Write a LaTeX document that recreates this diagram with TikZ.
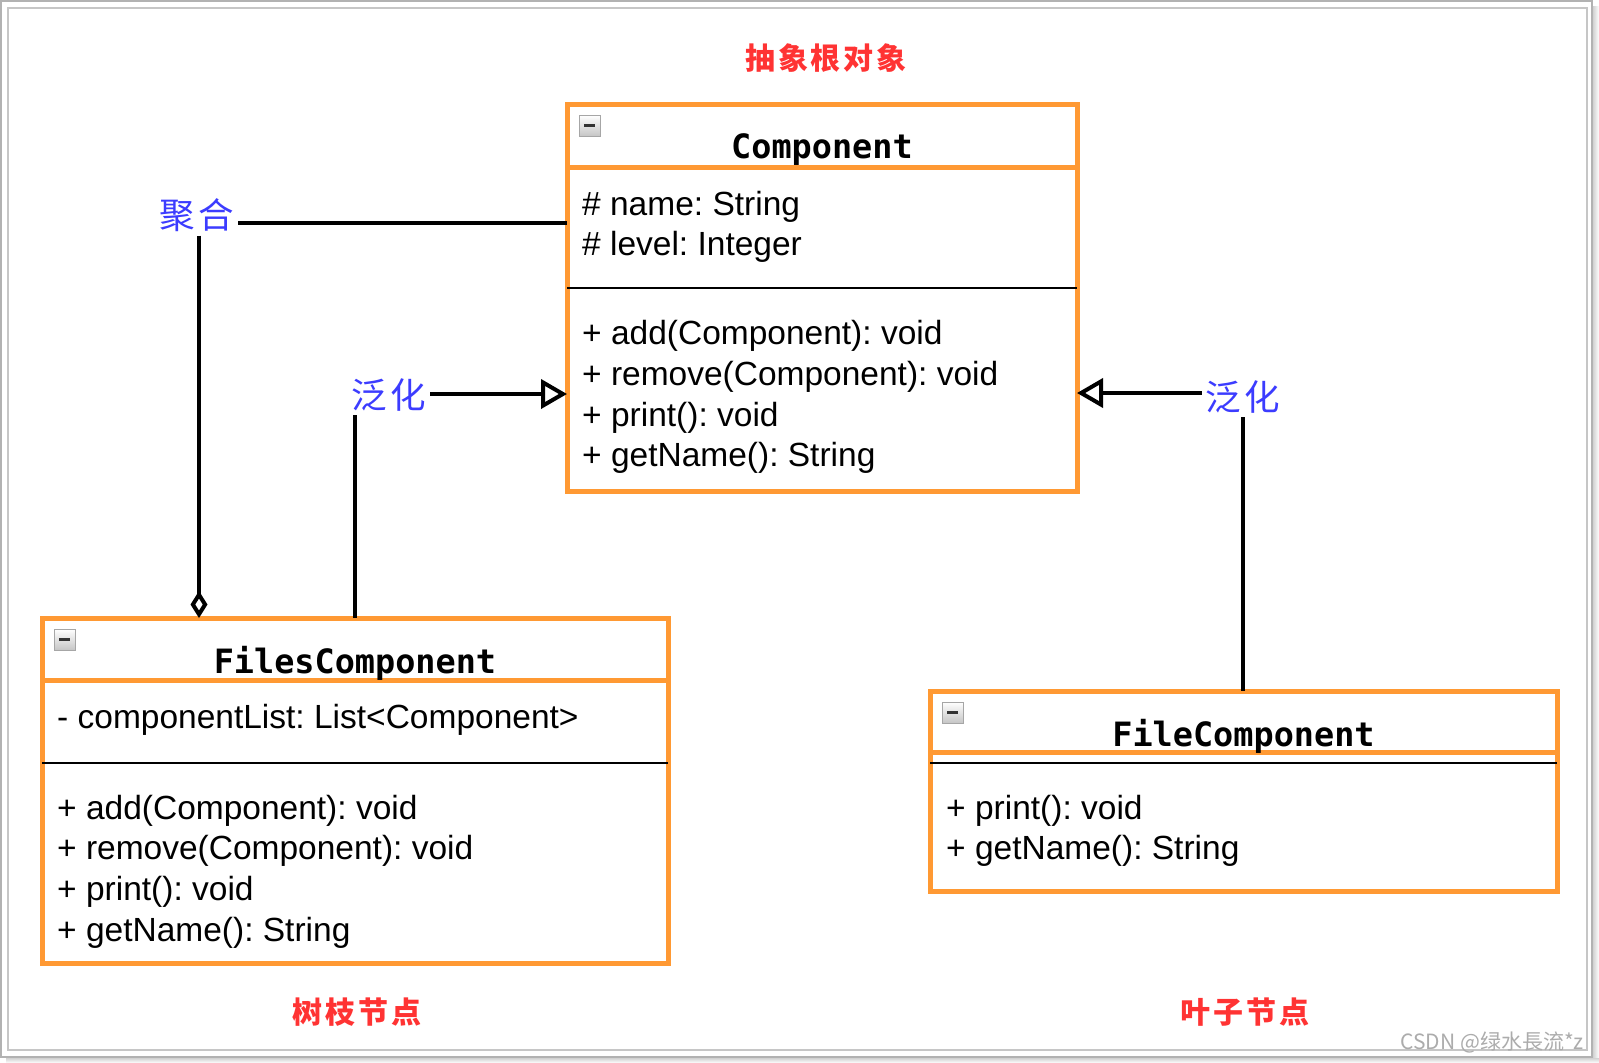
\documentclass[tikz,border=0pt]{standalone}
\usepackage{fontspec}
\setmainfont{Liberation Sans}
\newfontfamily\titlefont{DejaVu Sans Mono}
\newfontfamily\cjk{Noto Sans CJK SC}
\newfontfamily\cjkred[LetterSpace=9]{Noto Sans CJK SC}
\newfontfamily\cjkblue[LetterSpace=10]{Noto Sans CJK SC}
\usetikzlibrary{arrows.meta}
\definecolor{umlorange}{RGB}{255,153,51}
\definecolor{lblred}{RGB}{255,51,51}
\definecolor{lblblue}{RGB}{60,60,255}
\frenchspacing
\begin{document}
\begin{tikzpicture}[x=1pt,y=-1pt,
 clsbox/.style={draw=umlorange,line width=5pt,rectangle,inner sep=0pt,outer sep=0pt},
 hdrline/.style={draw=umlorange,line width=5pt},
 sepline/.style={draw=black,line width=2.5pt},
 clstitle/.style={anchor=base,inner sep=0pt,font=\titlefont\bfseries\fontsize{33.5}{40}\selectfont},
 member/.style={anchor=base west,inner sep=0pt,font=\frenchspacing\fontsize{33.5}{40}\selectfont},
 redlbl/.style={inner sep=0pt,text=lblred,font=\cjkred\bfseries\fontsize{30}{34}\selectfont},
 bluelbl/.style={inner sep=0pt,outer sep=4pt,text=lblblue,font=\cjkblue\fontsize{35.5}{40}\selectfont},
 conn/.style={draw=black,line width=4pt},
 genarrow/.style={conn,-{Triangle[open,length=26pt,width=29pt]}},
 aggarrow/.style={conn,-{Diamond[open,length=27pt,width=17pt]}},
 minusicon/.pic={
   \shade[top color=white,bottom color=gray!45,draw=gray!70,line width=1pt] (0,0) rectangle (21,21);
   \draw[black!80,line width=3pt] (5,10.5) -- (16,10.5);
 }
]
\useasboundingbox (0,0) rectangle (1599,1063);
% frame and shadow
\shade[left color=gray!35,right color=white] (1593,6) rectangle (1599,1063);
\shade[top color=gray!35,bottom color=white] (6,1058) rectangle (1599,1063);
\draw[gray!60,line width=1.5pt,fill=white] (1,1) rectangle (1592,1057);
\draw[gray!45,line width=1.5pt] (8,8) rectangle (1587,1050);

% class boxes
\node[clsbox,minimum width=510pt,minimum height=387pt] (comp) at (822,297.5) {};
\node[clsbox,minimum width=626pt,minimum height=345pt] (files) at (355,790.5) {};
\node[clsbox,minimum width=627pt,minimum height=200pt] (file) at (1243.5,791) {};

% compartments
\draw[hdrline] (comp.west |- 0,167) -- (comp.east |- 0,167);
\draw[sepline] (comp.west |- 0,288) -- (comp.east |- 0,288);
\draw[hdrline] (files.west |- 0,680) -- (files.east |- 0,680);
\draw[sepline] (files.west |- 0,763) -- (files.east |- 0,763);
\draw[hdrline] (file.west |- 0,752) -- (file.east |- 0,752);
\draw[sepline] (file.west |- 0,763) -- (file.east |- 0,763);

% icons
\pic at (579,115) {minusicon};
\pic at (54,629) {minusicon};
\pic at (942,702) {minusicon};

% Component
\node[clstitle] (compT) at (822,158) {Component};
\node[member] (compA1) at (582,215) {\# name: String};
\node[member] (compA2) at (582,255) {\# level: Integer};
\node[member] (compM1) at (582,344) {+ add(Component): void};
\node[member] (compM2) at (582,385) {+ remove(Component): void};
\node[member] (compM3) at (582,426) {+ print(): void};
\node[member] (compM4) at (582,466) {+ getName(): String};

% FilesComponent
\node[clstitle] (filesT) at (355,673) {FilesComponent};
\node[member] (filesA1) at (57,728) {- componentList: List<Component>};
\node[member] (filesM1) at (57,819) {+ add(Component): void};
\node[member] (filesM2) at (57,859.5) {+ remove(Component): void};
\node[member] (filesM3) at (57,900) {+ print(): void};
\node[member] (filesM4) at (57,941) {+ getName(): String};

% FileComponent
\node[clstitle] (fileT) at (1243.5,746) {FileComponent};
\node[member] (fileM1) at (946,819) {+ print(): void};
\node[member] (fileM2) at (946,859.5) {+ getName(): String};

% labels
\node[redlbl] (rootlbl) at (826,58) {抽象根对象};
\node[redlbl] (branch) at (357,1012) {树枝节点};
\node[redlbl] (leaf) at (1245,1012) {叶子节点};
\node[bluelbl] (agg) at (197,215) {聚合};
\node[bluelbl] (genL) at (389,395) {泛化};
\node[bluelbl] (genR) at (1243,397) {泛化};
\node[anchor=base east,inner sep=0pt,text=gray!65,font=\cjk\fontsize{21}{23}\selectfont] (wm) at (1584,1049) {CSDN @绿水長流*z};

% connectors
\draw[conn] (agg.east |- 0,223) -- (comp.west |- 0,223);
\draw[aggarrow] (agg.south -| 199,0) -- (files.north -| 199,0);
\draw[genarrow] (genL.east |- 0,394) -- (comp.west |- 0,394);
\draw[conn] (genL.south -| 355,0) -- (files.north -| 355,0);
\draw[genarrow] (genR.west |- 0,393) -- (comp.east |- 0,393);
\draw[conn] (genR.south -| 1243,0) -- (file.north -| 1243,0);
\end{tikzpicture}
\end{document}
